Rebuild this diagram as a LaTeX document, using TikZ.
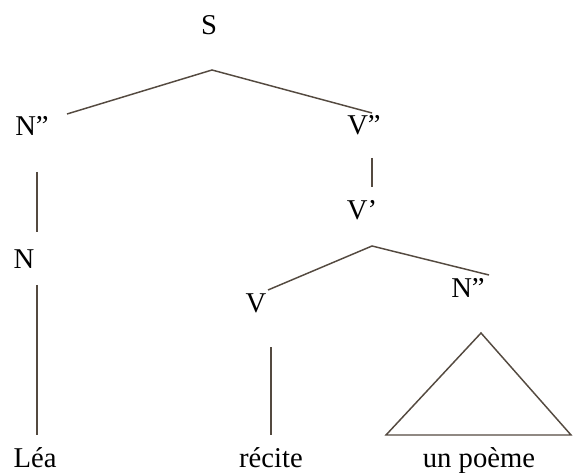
\documentclass[tikz,border=0pt]{standalone}
\usepackage{fontspec}
\setmainfont{Liberation Serif}
\definecolor{branch}{RGB}{84,74,64}
\begin{document}
\begin{tikzpicture}[x=0.75pt, y=-0.75pt,
    lbl/.style={anchor=base, inner sep=0pt, font=\fontsize{21.5}{26}\selectfont},
    edge/.style={draw=branch, line width=1.1pt}]
    \useasboundingbox (0,0) rectangle (573,473);

    % catégories
    \node[lbl] (S) at (209,35) {S};
    \node[lbl] (NPsub) at (32,136) {N”};
    \node[lbl] (VP) at (364,135) {V”};
    \node[lbl] (Vbar) at (362,220) {V’};
    \node[lbl] (Nsub) at (24,268) {N};
    \node[lbl] (Vhead) at (256,312) {V};
    \node[lbl] (NPobj) at (468,297) {N”};

    % mots
    \node[lbl] (lea) at (35,467) {Léa};
    \node[lbl] (recite) at (271,467) {récite};
    \node[lbl] (poeme) at (479,467) {un poème};

    % points d'attache des branches
    \coordinate (S-top) at (212,70);
    \coordinate (NPsub-end) at (67,114);
    \coordinate (VP-end) at (372,113);
    \coordinate (VP-bot) at (372,158);
    \coordinate (Vbar-top) at (372,187);
    \coordinate (NPsub-bot) at (37,172);
    \coordinate (Nsub-top) at (37,232);
    \coordinate (Nsub-bot) at (37,285);
    \coordinate (lea-top) at (37,435);
    \coordinate (Vbar-apex) at (372,246);
    \coordinate (Vhead-end) at (268,290);
    \coordinate (NPobj-end) at (489,275);
    \coordinate (Vhead-bot) at (271,347);
    \coordinate (recite-top) at (271,435);
    \coordinate (tri-top) at (481,333);
    \coordinate (tri-left) at (386,435);
    \coordinate (tri-right) at (571,435);

    % branches
    \draw[edge] (NPsub-end) -- (S-top) -- (VP-end);
    \draw[edge] (VP-bot) -- (Vbar-top);
    \draw[edge] (NPsub-bot) -- (Nsub-top);
    \draw[edge] (Nsub-bot) -- (lea-top);
    \draw[edge] (Vhead-end) -- (Vbar-apex) -- (NPobj-end);
    \draw[edge] (Vhead-bot) -- (recite-top);

    % triangle sous N”
    \draw[edge] (tri-left) -- (tri-top) -- (tri-right) -- cycle;
\end{tikzpicture}
\end{document}
